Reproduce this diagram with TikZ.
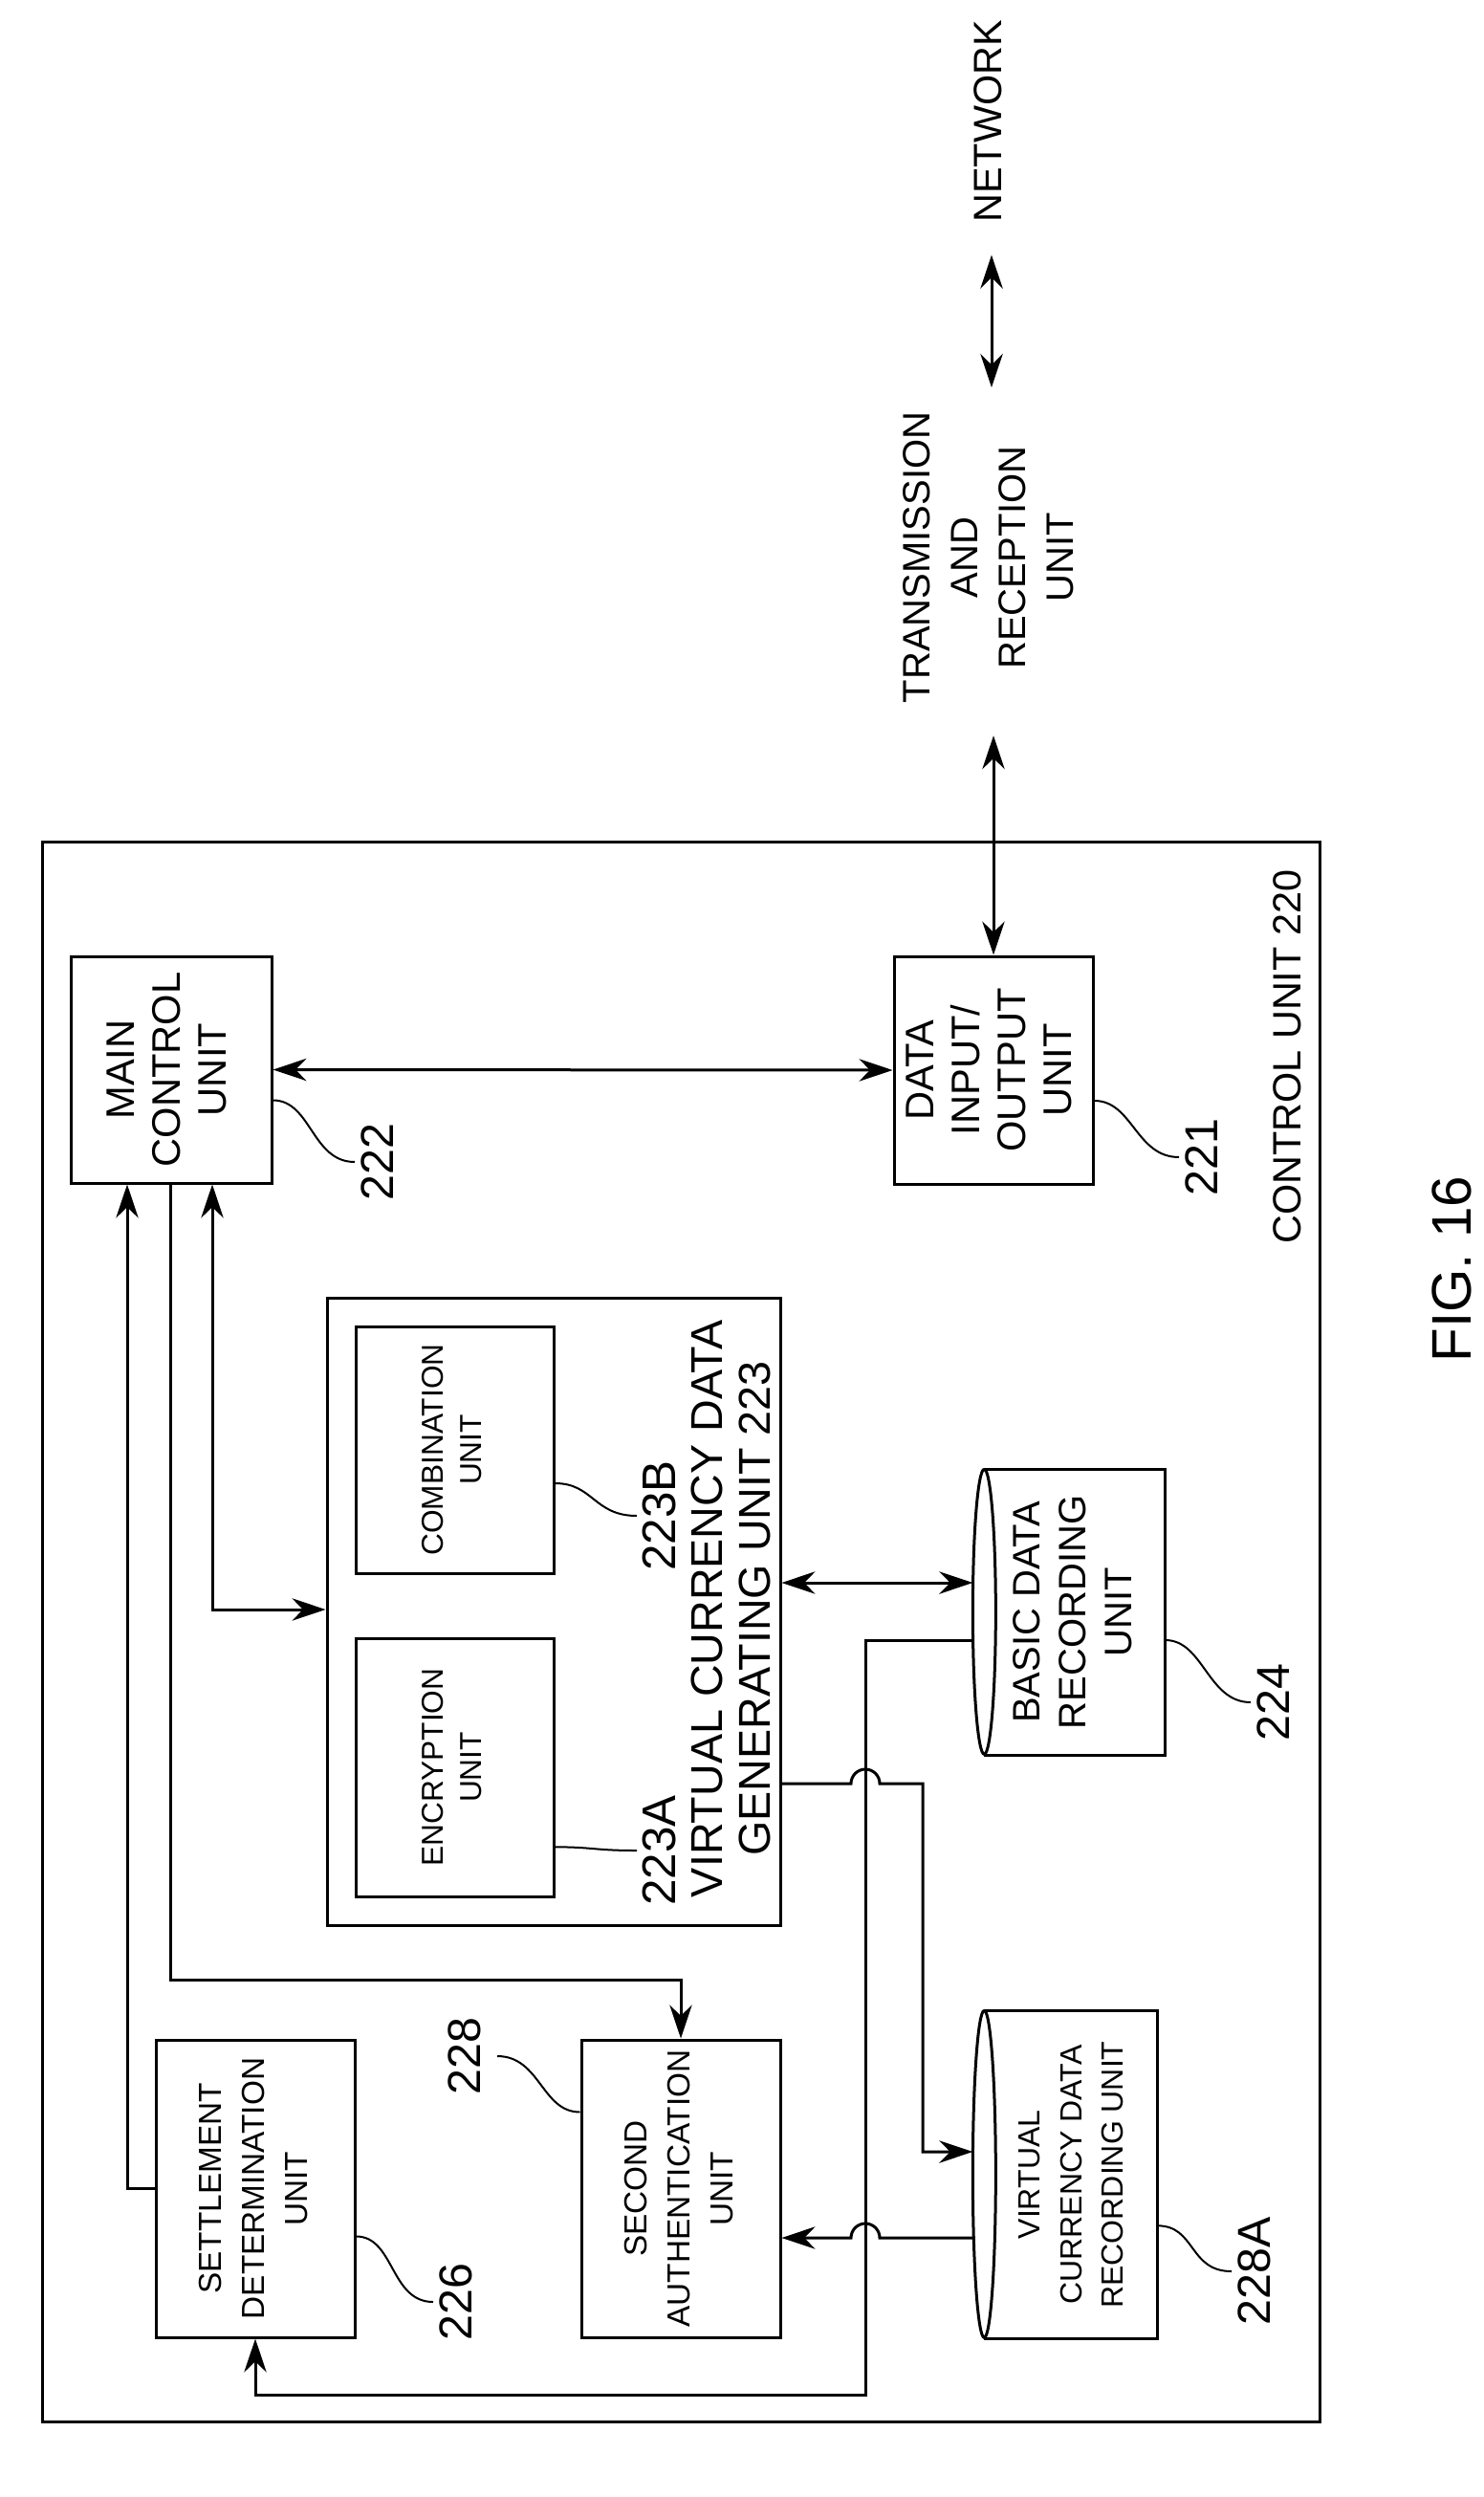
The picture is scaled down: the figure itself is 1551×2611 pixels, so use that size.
\documentclass[tikz,border=0pt]{standalone}
\usepackage{fontspec}
\setmainfont{Liberation Sans}
\usepackage{graphicx}
\usetikzlibrary{arrows.meta,positioning,calc}
\tikzset{box/.style={draw,line width=0.9pt,inner sep=0pt,align=center},
lbl/.style={inner sep=0pt},ln/.style={line width=0.9pt},
ar/.style={ln,-{Stealth[length=10.5pt,width=7pt]}},
dar/.style={ln,{Stealth[length=10.5pt,width=7pt]}-{Stealth[length=10.5pt,width=7pt]}},
sq/.style={line width=0.6pt}}
\newcommand{\vtext}[3]{\rotatebox{90}{\fontsize{#1}{#2}\selectfont\begin{tabular}{@{}c@{}}#3\end{tabular}}}
\newcommand{\wig}[2]{\draw[sq] (#1) .. controls +(40,0) and +(-45,0) .. (#2);}
\newcommand{\wag}[2]{\draw[sq] (#1) .. controls +(-40,0) and +(45,0) .. (#2);}
\newcommand{\cyl}[2]{\draw[ln] ([xshift=3.6pt]#1.north west) -- (#1.north east) -- (#1.south east) -- ([xshift=3.6pt]#1.south west);
  \draw[ln] ([xshift=3.6pt]#1.north west) arc[start angle=90,end angle=450,x radius=3.6pt,y radius=#2];}

\begin{document}
\begin{tikzpicture}[x=0.3pt,y=-0.3pt]
\useasboundingbox (0,0) rectangle (1551,2611);

% frame and blocks
\node[box,minimum width=400.8pt,minimum height=495.6pt] (frame) at (712,1706) {};
\node[box,minimum width=63pt,minimum height=71.1pt] (main) at (179,1118.5) {\vtext{12.5pt}{14.4pt}{MAIN\\CONTROL\\UNIT}};
\node[box,minimum width=62.4pt,minimum height=71.4pt] (dio) at (1039,1119) {\vtext{12.5pt}{14.4pt}{DATA\\INPUT/\\OUTPUT\\UNIT}};
\node[box,minimum width=142.2pt,minimum height=196.8pt] (vcd) at (579,1685) {};
\node[box,minimum width=62.1pt,minimum height=77.4pt] (comb) at (475.5,1516) {\vtext{9.5pt}{12pt}{COMBINATION\\UNIT}};
\node[box,minimum width=62.1pt,minimum height=81pt] (enc) at (475.5,1848) {\vtext{9.5pt}{12pt}{ENCRYPTION\\UNIT}};
\node[lbl] (vcdtxt) at (770,1682) {\vtext{14pt}{15pt}{VIRTUAL CURRENCY DATA\\GENERATING UNIT 223}};
\node[box,minimum width=62.4pt,minimum height=93.3pt] (settle) at (267,2288.5) {\vtext{10pt}{13.5pt}{SETTLEMENT\\DETERMINATION\\UNIT}};
\node[box,minimum width=62.4pt,minimum height=93.3pt] (second) at (712,2288.5) {\vtext{10pt}{13.5pt}{SECOND\\AUTHENTICATION\\UNIT}};
\node[lbl,minimum width=60pt,minimum height=89.4pt] (bdr) at (1118,1686) {\hspace{5pt}\vtext{12pt}{14.4pt}{BASIC DATA\\RECORDING\\UNIT}};
\node[lbl,minimum width=57.6pt,minimum height=102.6pt] (vcr) at (1114,2274) {\hspace{5pt}\vtext{9.6pt}{13pt}{VIRTUAL\\CURRENCY DATA\\RECORDING UNIT}};
\cyl{bdr}{44.7pt}
\cyl{vcr}{51.3pt}

% outside texts
\node[lbl] (trx) at (1037,583) {\vtext{12pt}{15pt}{TRANSMISSION\\AND\\RECEPTION\\UNIT}};
\node[lbl] (net) at (1037,127) {\vtext{12.4pt}{15pt}{NETWORK}};
\node[lbl] (ctl) at (1350,1105) {\vtext{12.4pt}{15pt}{CONTROL UNIT 220}};
\node[lbl] (fig) at (1525,1327) {\vtext{17.5pt}{20pt}{FIG. 16}};

% reference numerals
\node[lbl] (n222) at (400,1215) {\vtext{14.5pt}{17pt}{222}};
\node[lbl] (n221) at (1262,1210) {\vtext{14.5pt}{17pt}{221}};
\node[lbl] (n224) at (1337,1780) {\vtext{14.5pt}{17pt}{224}};
\node[lbl] (n223b) at (695,1585) {\vtext{14.8pt}{17pt}{223B}};
\node[lbl] (n223a) at (695,1935) {\vtext{14.8pt}{17pt}{223A}};
\node[lbl] (n226) at (482,2407) {\vtext{14.5pt}{17pt}{226}};
\node[lbl] (n228) at (491,2150) {\vtext{14.5pt}{17pt}{228}};
\node[lbl] (n228a) at (1317,2375) {\vtext{14.5pt}{17pt}{228A}};
\wig{[yshift=-9.6pt]main.east}{n222.west}
\wig{[yshift=-9.6pt]dio.east}{n221.west}
\wig{[yshift=-8.7pt]bdr.east}{n224.west}
\wig{[yshift=-10.5pt]comb.east}{n223b.west}
\wig{[yshift=-25pt]enc.east}{n223a.west}
\wig{[yshift=-15pt]settle.east}{n226.west}
\wag{[yshift=24pt]second.west}{n228.east}
\wig{[yshift=-16pt]vcr.east}{n228a.west}

% connectors
\coordinate (xA) at (133,0);
\coordinate (jB) at (178,2070);
\coordinate (jC) at (222,1683);
\coordinate (jD) at (900,1655);
\coordinate (jE) at (905,1715);
\coordinate (jF) at (905,2504);
\coordinate (jG) at (905,1865);
\coordinate (jH) at (965,2250);
\coordinate (jK) at (905,2340);
\draw[dar,shorten <=7.5pt,shorten >=10pt] (trx.north) -- (net.south);
\draw[dar,shorten <=10pt] (trx.south -| dio.north) -- (dio.north);
\draw[dar] (main.east) -- (dio.west);
\draw[ar] (settle.west) -| (main.south -| xA);
\draw[ar] (main.south -| jB) -- (jB) -| (second.north);
\draw[dar] (main.south -| jC) -- (jC) -- (vcd.west |- jC);
\draw[dar] (vcd.east |- jD) -- (bdr.west |- jD);
\draw[ar] (bdr.west |- jE) -- (jE) -- (jF) -| (settle.south);
\draw[ar] (vcd.east |- jG) -- ($(jG)+(-15,0)$) arc[start angle=180,end angle=0,radius=4.5pt] -- (jG -| jH) -- (jH) -- (vcr.west |- jH);
\draw[ar] (vcr.west |- jK) -- ($(jK)+(15,0)$) arc[start angle=0,end angle=180,radius=4.5pt] -- (second.east |- jK);
\end{tikzpicture}
\end{document}
